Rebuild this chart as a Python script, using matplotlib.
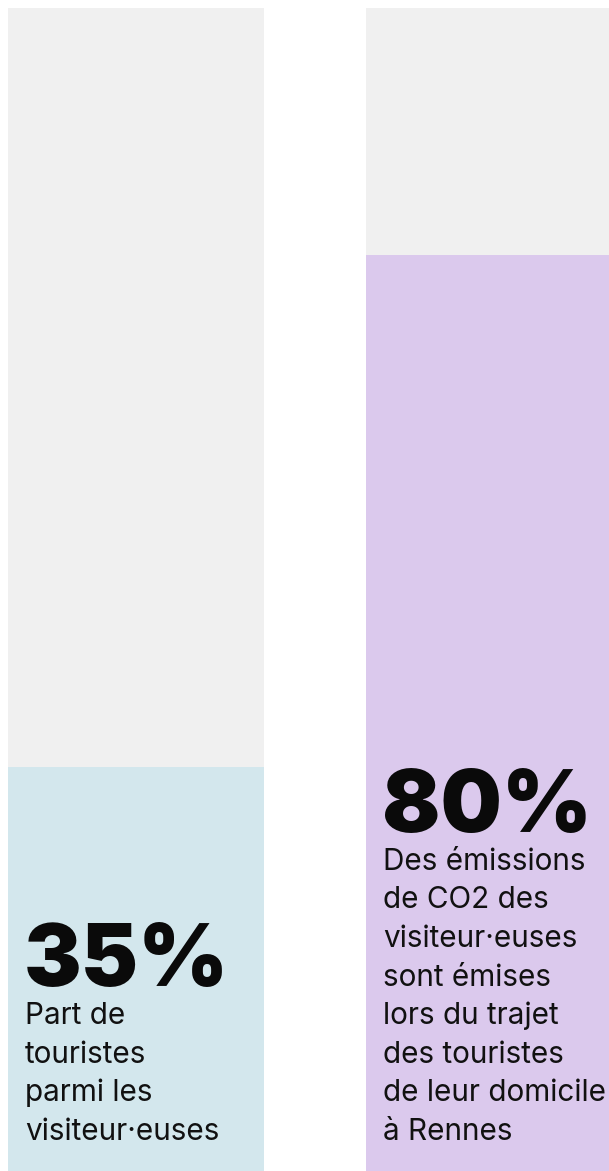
import matplotlib
matplotlib.use("Agg")
from matplotlib import pyplot as plt

# --------------------------------------------------------------------------
# data

shares = ["35%", "80%"]
fill = [34.7, 78.8]          # filled height of each column, % of full column
captions = [
    ["Part de", "touristes", "parmi les", "visiteur\u00b7euses"],
    ["Des \u00e9missions", "de CO2 des", "visiteur\u00b7euses", "sont \u00e9mises",
     "lors du trajet", "des touristes", "de leur domicile", "\u00e0 Rennes"],
]
colors = ["#d3e7ed", "#dbc9ed"]
track = "#f0f0f0"

# --------------------------------------------------------------------------

W, H = 609, 1171
DPI = 100
fig = plt.figure(figsize=(W/DPI, H/DPI), dpi=DPI)
fig.patch.set_facecolor("white")

top, bottom = 8, 1171
ax = fig.add_axes([0, 1 - bottom/H, 1, (bottom - top)/H])
ax.set_xlim(0, W)
ax.set_ylim(0, 100)
ax.axis("off")

lefts = [8, 366]
width = 256
ax.bar(lefts, [100]*len(lefts), width=width, align="edge", color=track, linewidth=0)
ax.bar(lefts, fill, width=width, align="edge", color=colors, linewidth=0)

def fx(px):
    return px / W

def fy(py):
    return 1 - py / H

font = "Inter"
last_baseline = 1140
step = 38.6
for x0, big, lines in zip(lefts, shares, captions):
    xt = x0 + 17
    for i, line in enumerate(reversed(lines)):
        fig.text(fx(xt), fy(last_baseline - i*step), line, family=font,
                 fontsize=21.4, va="baseline", ha="left", color="#111111")
    first = last_baseline - (len(lines) - 1)*step
    fig.text(fx(xt - 1), fy(first - 38), big, family=font, fontweight="black",
             fontsize=62, va="baseline", ha="left", color="#0a0a0a")

fig.savefig("out.png", dpi=DPI)
